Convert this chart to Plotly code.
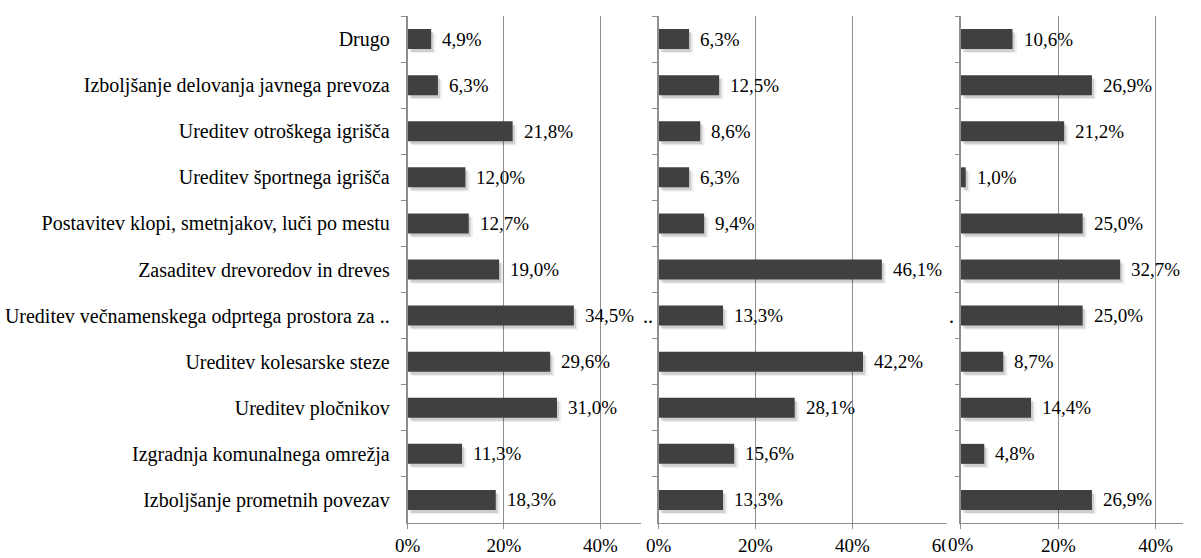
import plotly.graph_objects as go

# Categories, listed top to bottom
categories = [
    "Drugo",
    "Izboljšanje delovanja javnega prevoza",
    "Ureditev otroškega igrišča",
    "Ureditev športnega igrišča",
    "Postavitev klopi, smetnjakov, luči po mestu",
    "Zasaditev drevoredov in dreves",
    "Ureditev večnamenskega odprtega prostora za ..",
    "Ureditev kolesarske steze",
    "Ureditev pločnikov",
    "Izgradnja komunalnega omrežja",
    "Izboljšanje prometnih povezav",
]

# Shares (%) per panel
panel_1 = [4.9, 6.3, 21.8, 12.0, 12.7, 19.0, 34.5, 29.6, 31.0, 11.3, 18.3]
panel_2 = [6.3, 12.5, 8.6, 6.3, 9.4, 46.1, 13.3, 42.2, 28.1, 15.6, 13.3]
panel_3 = [10.6, 26.9, 21.2, 1.0, 25.0, 32.7, 25.0, 8.7, 14.4, 4.8, 26.9]

axis_max = [48.5, 60, 45.6]
tick_values = [[0, 20, 40], [0, 20, 40, 60], [0, 20, 40]]

W, H = 1201, 558
M_TOP, M_BOT = 16, 35
panel_px = [(405, 645), (662.7, 961), (973, 1201)]

FONT = "Liberation Serif"
CAT_SIZE = 20
VAL_SIZE = 19
TICK_SIZE = 19
BAR = "#404040"
GRID = "#8e8e8e"

BAR_W = 0.434          # bar thickness in category units
SHADOW_DX = 0.45       # shadow shift to the right, in % units
SHADOW_DY = 0.065      # shadow shift downwards, in category units

fig = go.Figure()
annotations = []

for i, vals in enumerate([panel_1, panel_2, panel_3]):
    sfx = "" if i == 0 else str(i + 1)
    xa, ya = "x" + sfx, "y" + sfx
    # soft drop shadow behind the bars
    for dx, dy, alpha in [(SHADOW_DX * 2, SHADOW_DY * 1.4, 0.06),
                          (SHADOW_DX, SHADOW_DY, 0.14)]:
        fig.add_trace(go.Bar(
            x=vals, y=categories, base=dx, orientation="h",
            width=BAR_W, offset=-BAR_W / 2 + dy,
            marker=dict(color=f"rgba(0,0,0,{alpha})", line=dict(width=0)),
            xaxis=xa, yaxis=ya, hoverinfo="skip", showlegend=False,
        ))
    fig.add_trace(go.Bar(
        x=vals, y=categories, orientation="h",
        width=BAR_W, offset=-BAR_W / 2,
        marker=dict(color=BAR, line=dict(width=0)),
        xaxis=xa, yaxis=ya, showlegend=False,
    ))
    for c, v in zip(categories, vals):
        annotations.append(dict(
            x=v, y=c, xref=xa, yref=ya, xanchor="left", xshift=9,
            text=f"{v:.1f}".replace(".", ",") + "%", showarrow=False,
            font=dict(family=FONT, size=VAL_SIZE, color="#000"),
        ))

    x0, x1 = panel_px[i]
    ticktext = [f"{t}%" for t in tick_values[i]]
    if i == 2:
        ticktext[0] = ""
    fig.layout["xaxis" + sfx] = dict(
        domain=[x0 / W, x1 / W], range=[0, axis_max[i]], anchor=ya,
        tickvals=tick_values[i], ticktext=ticktext,
        showgrid=True, gridcolor=GRID, gridwidth=1, zeroline=False,
        showline=True, linecolor=GRID, linewidth=1.3,
        ticks="outside", ticklen=5, tickcolor=GRID, tickwidth=1.3,
        tickfont=dict(family=FONT, size=TICK_SIZE, color="#000"),
        fixedrange=True,
    )
    fig.layout["yaxis" + sfx] = dict(
        domain=[0, 1], anchor=xa, autorange="reversed",
        showline=True, linecolor=GRID, linewidth=1.6,
        ticks="outside", tickson="boundaries", ticklen=5,
        tickcolor=GRID, tickwidth=1.3,
        showticklabels=(i == 0), ticklabelstandoff=12,
        tickfont=dict(family=FONT, size=CAT_SIZE, color="#000"),
        showgrid=False, zeroline=False, fixedrange=True,
    )

# clipped remnants of the long category label beside panels 2 and 3
long_cat = categories[6]
annotations.append(dict(x=0, y=long_cat, xref="x2 domain", yref="y2", xanchor="right",
                        xshift=-4, text="..", showarrow=False,
                        font=dict(family=FONT, size=CAT_SIZE, color="#000")))
annotations.append(dict(x=0, y=long_cat, xref="x3 domain", yref="y3", xanchor="right",
                        xshift=-5, text=".", showarrow=False,
                        font=dict(family=FONT, size=CAT_SIZE, color="#000")))

# panel 3 sits over the end of panel 2's axis
plot_h = H - M_TOP - M_BOT
fig.add_shape(type="rect", xref="paper", yref="paper",
              x0=958 / W, x1=967 / W, y0=-12 / plot_h, y1=1.02,
              fillcolor="white", line=dict(width=0), layer="above")
annotations.append(dict(x=0, y=0, xref="x3", yref="paper", yanchor="top", yshift=-8,
                        text="0%", showarrow=False, bgcolor="white", borderpad=2,
                        font=dict(family=FONT, size=TICK_SIZE, color="#000")))

fig.update_layout(
    width=W, height=H, barmode="overlay",
    margin=dict(l=0, r=0, t=M_TOP, b=M_BOT),
    paper_bgcolor="white", plot_bgcolor="white",
    annotations=annotations, showlegend=False,
)

fig.write_html("out.html")
